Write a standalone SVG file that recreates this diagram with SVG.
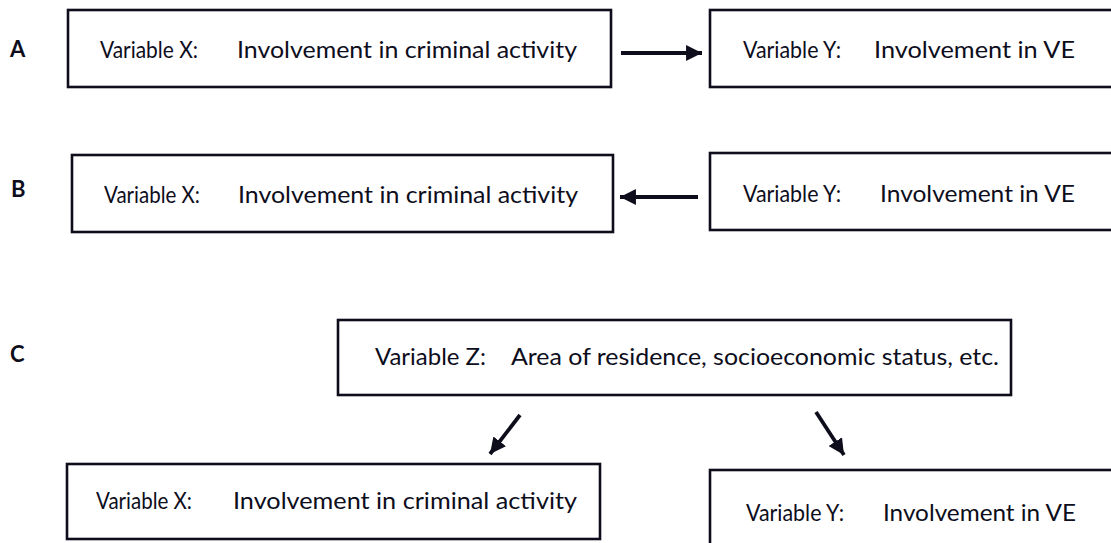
<svg xmlns="http://www.w3.org/2000/svg" width="1111" height="543" viewBox="0 0 1111 543">
  <style>
    .box { fill: #ffffff; stroke: #0d0d1c; stroke-width: 2.6; }
    .txt { font-family: Lato, "Open Sans", "Liberation Sans", sans-serif; font-size: 23px; fill: #0d0d1c; }
    .lbl { font-family: Lato, "Liberation Sans", sans-serif; font-size: 22px; font-weight: bold; fill: #0d0d1c; }
    .conn { stroke: #0d0d1c; stroke-width: 3.8; fill: none; }
  </style>
  <defs>
    <marker id="head" viewBox="0 0 10 10" refX="10" refY="5" markerWidth="4.2" markerHeight="4.2" markerUnits="strokeWidth" orient="auto">
      <path d="M0,0 L10,5 L0,10 Z" fill="#0d0d1c"/>
    </marker>
  </defs>
  <rect width="1111" height="543" fill="#ffffff"/>

  <!-- row labels -->
  <text class="lbl" x="10" y="57">A</text>
  <text class="lbl" x="11" y="197">B</text>
  <text class="lbl" x="10" y="362">C</text>

  <!-- Row A -->
  <g id="a-x">
    <rect class="box" x="68" y="10" width="543" height="77"/>
    <text class="txt" x="100" y="58" textLength="98" lengthAdjust="spacingAndGlyphs">Variable X:</text>
    <text class="txt" x="237" y="58" textLength="340" lengthAdjust="spacingAndGlyphs">Involvement in criminal activity</text>
  </g>
  <g id="a-y">
    <rect class="box" x="710" y="10" width="420" height="77"/>
    <text class="txt" x="743" y="58" textLength="98" lengthAdjust="spacingAndGlyphs">Variable Y:</text>
    <text class="txt" x="874" y="58" textLength="201" lengthAdjust="spacingAndGlyphs">Involvement in VE</text>
  </g>

  <!-- Row B -->
  <g id="b-x">
    <rect class="box" x="72" y="155" width="541" height="77"/>
    <text class="txt" x="104" y="203" textLength="96" lengthAdjust="spacingAndGlyphs">Variable X:</text>
    <text class="txt" x="238" y="203" textLength="340" lengthAdjust="spacingAndGlyphs">Involvement in criminal activity</text>
  </g>
  <g id="b-y">
    <rect class="box" x="710" y="153" width="420" height="77"/>
    <text class="txt" x="743" y="202" textLength="98" lengthAdjust="spacingAndGlyphs">Variable Y:</text>
    <text class="txt" x="880" y="202" textLength="195" lengthAdjust="spacingAndGlyphs">Involvement in VE</text>
  </g>

  <!-- Row C -->
  <g id="c-z">
    <rect class="box" x="338" y="320" width="673" height="75"/>
    <text class="txt" x="375" y="365" textLength="111" lengthAdjust="spacingAndGlyphs">Variable Z:</text>
    <text class="txt" x="511" y="365" textLength="488" lengthAdjust="spacingAndGlyphs">Area of residence, socioeconomic status, etc.</text>
  </g>
  <g id="c-x">
    <rect class="box" x="67" y="464" width="533" height="75"/>
    <text class="txt" x="96" y="509" textLength="96" lengthAdjust="spacingAndGlyphs">Variable X:</text>
    <text class="txt" x="233" y="509" textLength="344" lengthAdjust="spacingAndGlyphs">Involvement in criminal activity</text>
  </g>
  <g id="c-y">
    <rect class="box" x="710" y="470" width="420" height="90"/>
    <text class="txt" x="746" y="521" textLength="98" lengthAdjust="spacingAndGlyphs">Variable Y:</text>
    <text class="txt" x="883" y="521" textLength="193" lengthAdjust="spacingAndGlyphs">Involvement in VE</text>
  </g>

  <!-- connectors -->
  <g id="connectors">
    <line class="conn" x1="621" y1="53" x2="702" y2="53" marker-end="url(#head)"/>
    <line class="conn" x1="698" y1="197" x2="620" y2="197" marker-end="url(#head)"/>
    <line class="conn" x1="520" y1="415" x2="490" y2="454" marker-end="url(#head)"/>
    <line class="conn" x1="816" y1="412" x2="844" y2="455" marker-end="url(#head)"/>
  </g>
</svg>
